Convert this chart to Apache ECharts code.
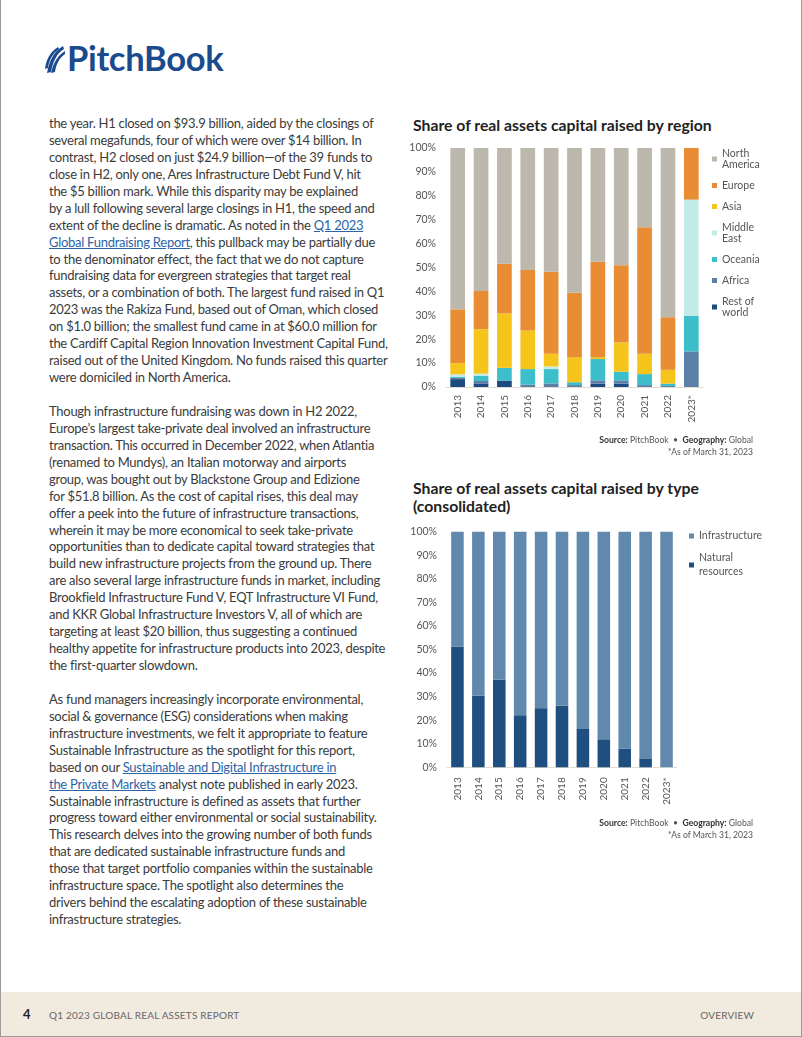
<!DOCTYPE html>
<html>
<head>
<meta charset="utf-8">
<script src="https://cdn.jsdelivr.net/npm/echarts@6/dist/echarts.min.js"></script>
<style>
  html, body { margin:0; padding:0; background:#fff; }
  #page { position:relative; width:802px; height:1037px; overflow:hidden; background:#fff; box-sizing:border-box; border-left:1px solid #9a9a9a; border-right:1px solid #9a9a9a; border-bottom:1px solid #9a9a9a; font-family:'Lato', 'Open Sans', sans-serif; }
  .logo { position:absolute; left:42px; top:40px; height:40px; }
  .logo-text { position:absolute; left:66px; top:37px; font-family:'Lato', sans-serif; font-weight:700; font-size:34.5px; color:#1b4a8d; letter-spacing:-0.3px; }
  .col { position:absolute; left:48px; width:345px; font-size:13px; letter-spacing:-0.27px; line-height:16.93px; color:#3b3b3b; white-space:nowrap; }
  .col a { color:#2b64a8; text-decoration:underline; }
  .ctitle { position:absolute; left:412px; font-size:15.75px; font-weight:700; color:#222; line-height:18px; }
  .src { position:absolute; right:48px; font-size:8.6px; color:#555; text-align:right; line-height:12px; }
  .src b { color:#333; }
  #footer { position:absolute; left:0; top:992px; width:100%; height:45px; background:#f1eadf; }
  .fnum { position:absolute; left:22px; top:1006px; font-size:13px; font-weight:700; color:#222; }
  .ftxt { position:absolute; left:48px; top:1009px; font-size:10px; color:#666; letter-spacing:0.2px; }
  .fright { position:absolute; right:47px; top:1009px; font-size:10px; color:#666; letter-spacing:0.2px; }
  #c1 { position:absolute; left:400px; top:100px; width:402px; height:340px; }
  #c2 { position:absolute; left:400px; top:520px; width:402px; height:300px; }
</style>
</head>
<body>
<div id="page">
  <svg class="logo" viewBox="0 0 24 40" width="24" height="40">
    <path d="M4 33 C6 22 10 12 20 6 L21 9 C13 14 10 22 8 32 Z" fill="#1b4a8d"/>
    <path d="M8 33 C10 24 14 16 22 11 L22 14 C16 18 13 25 12 32 Z" fill="#1b4a8d"/>
    <path d="M2 29 C3 20 7 12 15 7 L16 9 C10 13 6 20 5 28 Z" fill="#1b4a8d"/>
  </svg>
  <div class="logo-text">PitchBook</div>

  <div class="col" style="top:115px;">
the year. H1 closed on $93.9 billion, aided by the closings of<br>
several megafunds, four of which were over $14 billion. In<br>
contrast, H2 closed on just $24.9 billion—of the 39 funds to<br>
close in H2, only one, Ares Infrastructure Debt Fund V, hit<br>
the $5 billion mark. While this disparity may be explained<br>
by a lull following several large closings in H1, the speed and<br>
extent of the decline is dramatic. As noted in the <a>Q1 2023 </a><br>
<a>Global Fundraising Report</a>, this pullback may be partially due<br>
to the denominator effect, the fact that we do not capture<br>
fundraising data for evergreen strategies that target real<br>
assets, or a combination of both. The largest fund raised in Q1<br>
2023 was the Rakiza Fund, based out of Oman, which closed<br>
on $1.0 billion; the smallest fund came in at $60.0 million for<br>
the Cardiff Capital Region Innovation Investment Capital Fund,<br>
raised out of the United Kingdom. No funds raised this quarter<br>
were domiciled in North America.<br>
<br>
Though infrastructure fundraising was down in H2 2022,<br>
Europe’s largest take-private deal involved an infrastructure<br>
transaction. This occurred in December 2022, when Atlantia<br>
(renamed to Mundys), an Italian motorway and airports<br>
group, was bought out by Blackstone Group and Edizione<br>
for $51.8 billion. As the cost of capital rises, this deal may<br>
offer a peek into the future of infrastructure transactions,<br>
wherein it may be more economical to seek take-private<br>
opportunities than to dedicate capital toward strategies that<br>
build new infrastructure projects from the ground up. There<br>
are also several large infrastructure funds in market, including<br>
Brookfield Infrastructure Fund V, EQT Infrastructure VI Fund,<br>
and KKR Global Infrastructure Investors V, all of which are<br>
targeting at least $20 billion, thus suggesting a continued<br>
healthy appetite for infrastructure products into 2023, despite<br>
the first-quarter slowdown.<br>
<br>
As fund managers increasingly incorporate environmental,<br>
social &amp; governance (ESG) considerations when making<br>
infrastructure investments, we felt it appropriate to feature<br>
Sustainable Infrastructure as the spotlight for this report,<br>
based on our <a>Sustainable and Digital Infrastructure in </a><br>
<a>the Private Markets</a> analyst note published in early 2023.<br>
Sustainable infrastructure is defined as assets that further<br>
progress toward either environmental or social sustainability.<br>
This research delves into the growing number of both funds<br>
that are dedicated sustainable infrastructure funds and<br>
those that target portfolio companies within the sustainable<br>
infrastructure space. The spotlight also determines the<br>
drivers behind the escalating adoption of these sustainable<br>
infrastructure strategies.
  </div>

  <div class="ctitle" style="top:116px;">Share of real assets capital raised by region</div>
  <div id="c1"></div>
  <div class="src" style="top:434px;"><b>Source:</b> PitchBook &nbsp;•&nbsp; <b>Geography:</b> Global<br>*As of March 31, 2023</div>

  <div class="ctitle" style="top:479px;">Share of real assets capital raised by type<br>(consolidated)</div>
  <div id="c2"></div>
  <div class="src" style="top:817px;"><b>Source:</b> PitchBook &nbsp;•&nbsp; <b>Geography:</b> Global<br>*As of March 31, 2023</div>

  <div id="footer"></div>
  <div class="fnum">4</div>
  <div class="ftxt">Q1 2023 GLOBAL REAL ASSETS REPORT</div>
  <div class="fright">OVERVIEW</div>
</div>

<script>
// ---------- Data ----------
const years = ['2013','2014','2015','2016','2017','2018','2019','2020','2021','2022','2023*'];
const yTicks = [0,10,20,30,40,50,60,70,80,90,100];

// Chart 1: share by region (%)
const northAmerica = [67.5, 59.8, 48.4, 51.0, 51.8, 60.6, 47.6, 49.1, 33.2, 70.8, 0];
const europe       = [22.5, 16.0, 20.8, 25.4, 34.3, 26.9, 39.9, 32.3, 52.9, 22.0, 21.6];
const asia         = [4.7, 18.6, 22.8, 16.1, 5.3, 10.5, 0.8, 12.2, 8.5, 5.8, 0];
const middleEast   = [1.0, 1.0, 0, 0, 1.1, 0, 0, 0, 0, 0, 48.7];
const oceania      = [0.5, 2.1, 5.3, 6.5, 6.0, 1.2, 8.9, 3.6, 4.6, 1.0, 14.8];
const africa       = [0.5, 1.2, 0, 1.0, 1.5, 0.8, 1.4, 1.4, 0.8, 0.4, 14.9];
const restOfWorld  = [3.3, 1.3, 2.7, 0, 0, 0, 1.4, 1.4, 0, 0, 0];

// Chart 2: share by type (%)
const naturalResources = [51.2, 30.4, 37.2, 22.1, 25.1, 26.2, 16.3, 11.9, 7.9, 3.8, 0];
const infrastructure   = naturalResources.map(v => +(100 - v).toFixed(1));

// ---------- Styles ----------
const FONT = 'Lato';
const axisLabelColor = '#555';
const legendBreaks = { 'North America':'North\nAmerica', 'Middle East':'Middle\nEast', 'Rest of world':'Rest of\nworld', 'Natural resources':'Natural\nresources' };

function yAxisCfg() {
  return {
    type:'value', min:0, max:100, interval:10,
    axisLabel:{ formatter:'{value}%', color:axisLabelColor, fontFamily:FONT, fontSize:10.5, margin:10 },
    axisLine:{ show:false }, axisTick:{ show:false }, splitLine:{ show:false }
  };
}
function xAxisCfg(margin) {
  return {
    type:'category', data:years,
    axisLabel:{ rotate:90, color:axisLabelColor, fontFamily:FONT, fontSize:10, margin:margin, interval:0 },
    axisLine:{ show:true, lineStyle:{ color:'#e3dcd3', width:1 } }, axisTick:{ show:false }
  };
}

// ---------- Chart 1 ----------
const c1 = echarts.init(document.getElementById('c1'), null, { renderer:'canvas' });
const regionSeries = [
  ['Rest of world', restOfWorld, '#1d4a7f'],
  ['Africa', africa, '#5b7fa5'],
  ['Oceania', oceania, '#3cbfca'],
  ['Middle East', middleEast, '#c3ebe8'],
  ['Asia', asia, '#f5c51c'],
  ['Europe', europe, '#e98d35'],
  ['North America', northAmerica, '#bcb8ad']
];
c1.setOption({
  animation:false,
  grid:{ left:45, top:48, width:257, height:239, containLabel:false },
  legend:{
    orient:'vertical', left:306, top:43, itemWidth:5, itemHeight:5, itemGap:10,
    icon:'rect',
    data:['North America','Europe','Asia','Middle East','Oceania','Africa','Rest of world'],
    formatter: n => legendBreaks[n] || n,
    textStyle:{ color:'#555', fontFamily:FONT, fontSize:10.5, lineHeight:11 }
  },
  xAxis: xAxisCfg(8),
  yAxis: yAxisCfg(),
  series: regionSeries.map(([name, data, color]) => ({
    name, type:'bar', stack:'r', data, barWidth:'63%', itemStyle:{ color }
  }))
});

// ---------- Chart 2 ----------
const c2 = echarts.init(document.getElementById('c2'), null, { renderer:'canvas' });
c2.setOption({
  animation:false,
  grid:{ left:46, top:11.7, width:230, height:235.6, containLabel:false },
  legend:{
    orient:'vertical', left:283, top:4, itemWidth:5, itemHeight:5, itemGap:8,
    icon:'rect',
    data:['Infrastructure','Natural resources'],
    formatter: n => legendBreaks[n] || n,
    textStyle:{ color:'#555', fontFamily:FONT, fontSize:10.5, lineHeight:14 }
  },
  xAxis: xAxisCfg(10),
  yAxis: yAxisCfg(),
  series: [
    { name:'Natural resources', type:'bar', stack:'t', data:naturalResources, barWidth:'60%', itemStyle:{ color:'#1f4e80' } },
    { name:'Infrastructure', type:'bar', stack:'t', data:infrastructure, barWidth:'60%', itemStyle:{ color:'#6188ad' } }
  ]
});
</script>
</body>
</html>
